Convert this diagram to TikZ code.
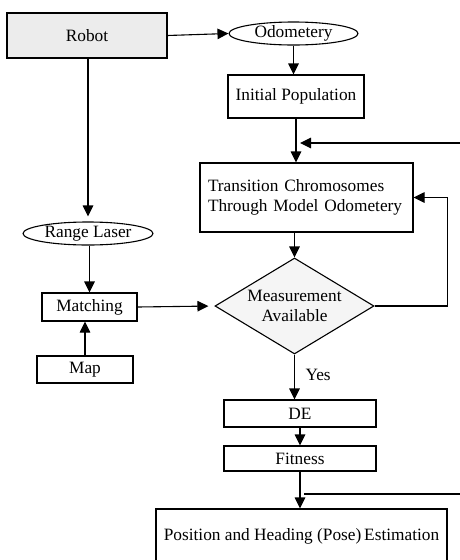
\documentclass[tikz,border=0pt]{standalone}
\usepackage{fontspec}
\setmainfont{Liberation Serif}
\usepackage{tikz}
\usetikzlibrary{positioning,shapes.geometric,arrows.meta}

\begin{document}
\begin{tikzpicture}[x=1pt,y=-1pt,font=\fontsize{17.3}{20}\selectfont,line width=1.1pt,
 B/.style={draw,rectangle,inner sep=0pt,align=center},
 E/.style={draw,ellipse,inner sep=0pt},
 arr/.style={-{Triangle[length=11pt,width=10.5pt]}}]
 \useasboundingbox (0,0) rectangle (460,560);
 \node[B,fill=gray!15,minimum width=160,minimum height=45](robot) at (87,35.5){Robot};
 \node[E,minimum width=129,minimum height=23](odo) at (293.5,33.5){Odometery};
 \node[B,minimum width=136,minimum height=43](init) at (296,96.5){Initial Population};
 \node[B,minimum width=213,minimum height=69,text width=197,align=left,inner xsep=8pt](trans) at (306.5,197.5){Transition Chromosomes\\Through Model Odometery};
 \node[draw,diamond,fill=gray!8,aspect=1.64,inner sep=0pt,minimum width=159,minimum height=96,align=center](meas) at (294.5,306){Measurement\\Available};
 \node[E,minimum width=130,minimum height=23](rl) at (88,233.5){Range Laser};
 \node[B,minimum width=95,minimum height=28](match) at (89.5,307){Matching};
 \node[B,minimum width=96,minimum height=27](map) at (85,369.5){Map};
 \node[B,minimum width=152,minimum height=27](de) at (300,413.5){DE};
 \node[B,minimum width=152,minimum height=25](fit) at (300,458.5){Fitness};
 \node[B,minimum width=291,minimum height=54](pose) at (301.5,536){Position and Heading (Pose)\,Estimation};
 \node[anchor=base west,inner sep=0pt](yes) at (305,380){Yes};
 \coordinate (inR) at (460,143);
 \coordinate (inL) at (300,143);
 \coordinate (outL) at (304,494);
 \coordinate (outR) at (460,494);
 % main line
 \draw[arr](robot.east)--(odo.west);
 \draw[arr](odo.south)--(odo.south|-init.north);
 \draw[arr](init.south)--(init.south|-trans.north);
 \draw[arr](inR)--(inL);
 \draw[arr](trans.south-|meas.north)--(meas.north);
 \draw[arr](meas.east)-|([xshift=34pt]trans.east)--(trans.east);
 \draw[arr](meas.south)--(meas.south|-de.north);
 \draw[arr](de.south)--(fit.north);
 \draw[arr](fit.south)--(fit.south|-pose.north);
 \draw(outL)--(outR);
 % sensor side
 \draw[arr,shorten >=5pt](robot.south-|rl.north)--(rl.north);
 \draw[arr](rl.south-|match.north)--(match.north);
 \draw[arr](map.north)--(map.north|-match.south);
 \draw[arr,shorten >=6pt](match.east)--(meas.west);
\end{tikzpicture}
\end{document}
